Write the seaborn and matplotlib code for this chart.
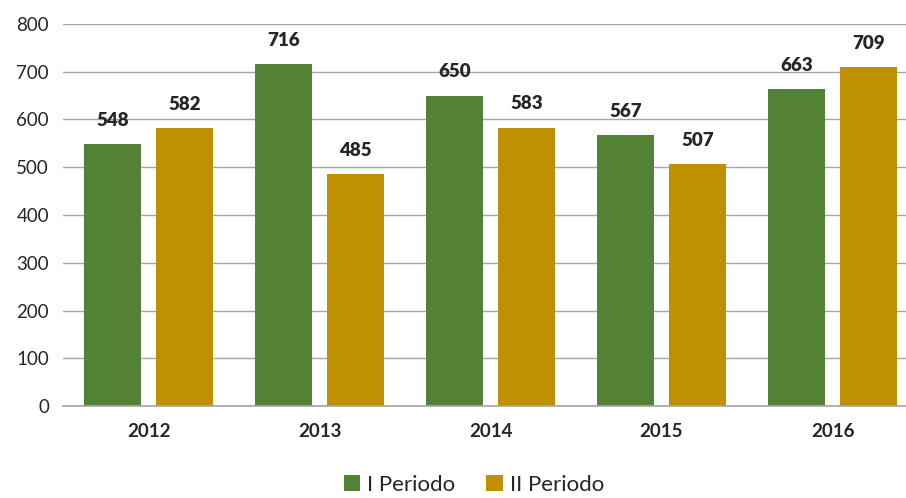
import pandas as pd
import seaborn as sns
import matplotlib.pyplot as plt

years = ['2012', '2013', '2014', '2015', '2016']
periodo_1 = [548, 716, 650, 567, 663]
periodo_2 = [582, 485, 583, 507, 709]
series_names = ['I Periodo', 'II Periodo']
colors = ['#548235', '#BF9000']

df = pd.DataFrame({
    'year': years * 2,
    'value': periodo_1 + periodo_2,
    'serie': [series_names[0]] * len(years) + [series_names[1]] * len(years),
})

sns.set_style('white')
plt.rcParams['font.family'] = ['Lato', 'DejaVu Sans']

fig = plt.figure(figsize=(9.06, 4.98), dpi=100)
ax = fig.add_axes([63 / 906, 1 - 406 / 498, (906 - 63) / 906, 382 / 498])

sns.barplot(data=df, x='year', y='value', hue='serie', palette=colors,
            width=0.836, gap=0.196, saturation=1, linewidth=0, ax=ax, legend=True)

ax.set_ylim(0, 800)
ax.set_xlim(-0.5, 4.5 - 12 / 171)
ax.set_yticks(range(0, 801, 100))
ax.yaxis.grid(True, color='#A6A6A6', linewidth=1)
ax.set_axisbelow(True)
for side in ['top', 'right', 'left']:
    ax.spines[side].set_visible(False)
ax.spines['bottom'].set_color('#A6A6A6')
ax.spines['bottom'].set_linewidth(1.2)
ax.tick_params(axis='y', length=0, labelsize=13.5, pad=10)
ax.tick_params(axis='x', length=0, labelsize=13.5, pad=12)
for lbl in ax.get_xticklabels():
    lbl.set_fontweight('bold')
ax.set_xlabel('')
ax.set_ylabel('')

for cont in ax.containers:
    ax.bar_label(cont, fmt='%d', padding=11, fontsize=13.5, fontweight='heavy')

handles, labels = ax.get_legend_handles_labels()
ax.get_legend().remove()
fig.legend(handles, labels, loc='center', bbox_to_anchor=(0.523, 0.026), ncol=2,
           frameon=False, fontsize=16, handlelength=0.75, handleheight=0.75,
           handletextpad=0.3, columnspacing=1.4, borderpad=0)

fig.savefig('out.png', dpi=100)
